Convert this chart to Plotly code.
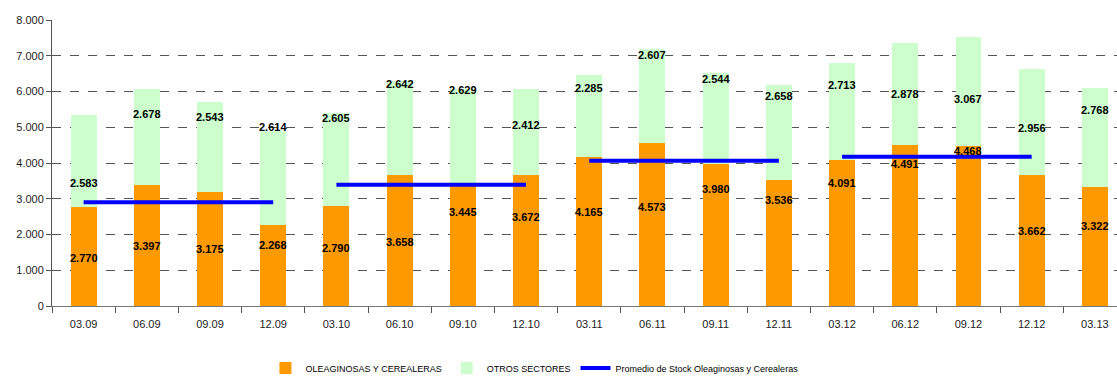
import plotly.graph_objects as go

# ---------------- data ----------------
categories = ["03.09", "06.09", "09.09", "12.09", "03.10", "06.10", "09.10", "12.10",
              "03.11", "06.11", "09.11", "12.11", "03.12", "06.12", "09.12", "12.12", "03.13"]
oleaginosas = [2770, 3397, 3175, 2268, 2790, 3658, 3445, 3672,
               4165, 4573, 3980, 3536, 4091, 4491, 4468, 3662, 3322]
otros = [2583, 2678, 2543, 2614, 2605, 2642, 2629, 2412,
         2285, 2607, 2544, 2658, 2713, 2878, 3067, 2956, 2768]
# yearly average of oleaginosas (drawn from first to last quarter of each year)
avg_years_start = ["03.09", "03.10", "03.11", "03.12"]
avg_years_end = ["12.09", "12.10", "12.11", "12.12"]
avg_values = [2903, 3391, 4064, 4178]
y_ticks = [0, 1000, 2000, 3000, 4000, 5000, 6000, 7000, 8000]

# ---------------- label placement (layout) ----------------
label_y_orange = [1343, 1678, 1594, 1706, 1622, 1790, 2629, 2490,
                  2629, 2769, 3273, 2965, 3441, 3972, 4336, 2098, 2238]
label_y_green = [3441, 5371, 5287, 5007, 5259, 6210, 6042, 5063,
                 6098, 7021, 6350, 5874, 6182, 5930, 5790, 4979, 5483]

FONT = "Liberation Sans Narrow, Liberation Sans, Arial"

fig = go.Figure()
fig.add_trace(go.Bar(x=categories, y=oleaginosas, name="OLEAGINOSAS Y CEREALERAS",
                     marker=dict(color="#FF9900", line=dict(width=0)), width=0.41))
fig.add_trace(go.Bar(x=categories, y=otros, name="OTROS SECTORES",
                     marker=dict(color="#CCFFCC", line=dict(width=0)), width=0.41))

lx, ly = [], []
for s, e, v in zip(avg_years_start, avg_years_end, avg_values):
    lx += [s, e, None]
    ly += [v, v, None]
fig.add_trace(go.Scatter(x=lx, y=ly, mode="lines", name="Promedio de Stock Oleaginosas y Cerealeras",
                         line=dict(color="#0000FF", width=4), connectgaps=False))

def fmt(v):
    return f"{v:,}".replace(",", ".")

annotations = []
for i, (v, yy) in enumerate(zip(oleaginosas, label_y_orange)):
    annotations.append(dict(x=i, y=yy, xref="x", yref="y", text="<b>" + fmt(v) + "</b>",
                            showarrow=False, font=dict(family=FONT, size=11, color="#000000")))
for i, (v, yy) in enumerate(zip(otros, label_y_green)):
    annotations.append(dict(x=i, y=yy, xref="x", yref="y", text="<b>" + fmt(v) + "</b>",
                            showarrow=False, font=dict(family=FONT, size=11, color="#000000")))

fig.update_layout(
    barmode="stack",
    width=1117, height=376,
    margin=dict(l=52, r=0, t=20, b=70, autoexpand=False),
    paper_bgcolor="white", plot_bgcolor="white",
    separators=",.",
    font=dict(family=FONT, size=11, color="#222222"),
    showlegend=True,
    legend=dict(orientation="h", x=0.453, xanchor="center", y=-0.217, yanchor="middle",
                font=dict(family=FONT, size=9, color="#000000"), traceorder="normal",
                itemwidth=30, bgcolor="rgba(0,0,0,0)"),
    annotations=annotations,
)
fig.update_xaxes(type="category", categoryorder="array", categoryarray=categories,
                 range=[-0.5, 16.35], tickson="boundaries", ticks="outside", ticklen=6,
                 tickcolor="#555555", showline=True, linecolor="#777777", linewidth=1,
                 showgrid=False, ticklabelstandoff=8, tickfont=dict(size=11, color="#222222"))
fig.update_yaxes(range=[0, 8000], tickvals=y_ticks, tickformat=",.0f", ticks="outside", ticklen=5,
                 tickcolor="#555555", showline=True, linecolor="#555555", linewidth=1,
                 showgrid=True, gridcolor="#555555", griddash="dash", gridwidth=1,
                 zeroline=False, tickfont=dict(size=11, color="#222222"))

fig.write_html("out.html")
